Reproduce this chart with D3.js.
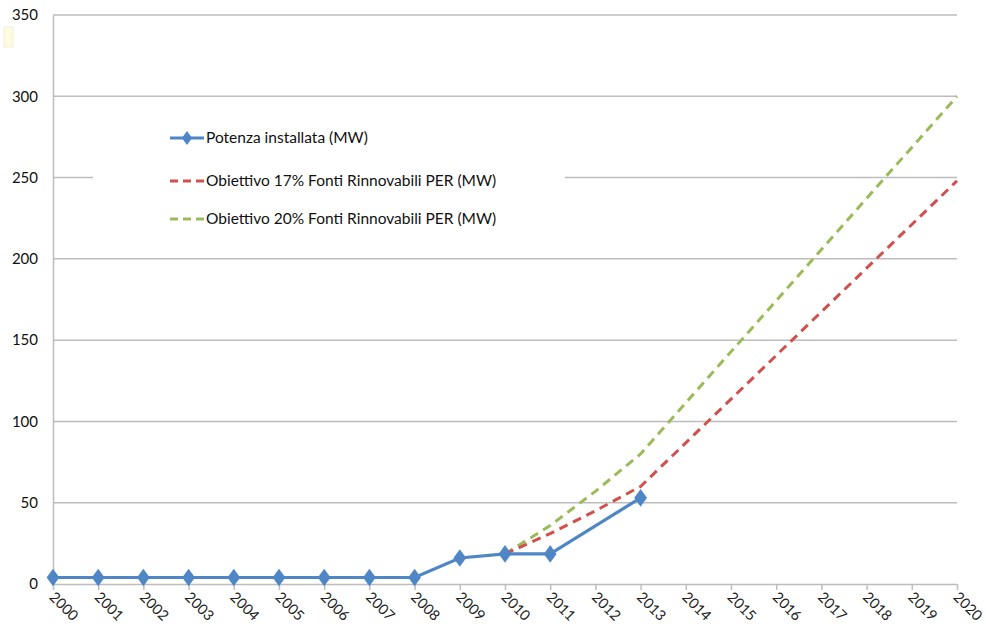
<!DOCTYPE html>
<html><head><meta charset="utf-8">
<script src="https://cdn.jsdelivr.net/npm/d3@7"></script>
<style>body{margin:0;background:#fff}svg{display:block}</style>
</head><body><svg id="c" width="986" height="634"></svg>
<script>
const years = d3.range(2000, 2021);
const yTicks = [0, 50, 100, 150, 200, 250, 300, 350];
const installedYears = [2000,2001,2002,2003,2004,2005,2006,2007,2008,2009,2010,2011,2013];
const installedValues = [4,4,4,4,4,4,4,4,4,16,18.5,18.5,53];
const target17Years = [2010,2011,2012,2013,2020];
const target17Values = [18.5,31,45,60,248];
const target20Years = [2010,2011,2012,2013,2020];
const target20Values = [18.5,36,57,80,300];
const seriesNames = ["Potenza installata (MW)","Obiettivo 17% Fonti Rinnovabili PER (MW)","Obiettivo 20% Fonti Rinnovabili PER (MW)"];
const colors = ["#4f86c6","#d0504d","#9bbb59"];

const svg = d3.select("#c");
const L=53, R=957, T=15, B=584;
const x = d3.scaleLinear().domain([2000,2020]).range([L,R]);
const y = d3.scaleLinear().domain([0,350]).range([B,T]);
const font = "Lato, 'Open Sans', sans-serif";

// gridlines
svg.append("g").selectAll("line").data(yTicks.filter(d=>d>0)).join("line")
  .attr("x1",L).attr("x2",R).attr("y1",d=>y(d)).attr("y2",d=>y(d))
  .attr("stroke","#bdbdbd").attr("stroke-width",1.5);

// y axis
const ya = svg.append("g").attr("transform",`translate(${L},0)`)
  .call(d3.axisLeft(y).tickValues(yTicks).tickSize(0).tickPadding(15));
ya.select(".domain").attr("stroke","#bdbdbd").attr("stroke-width",1.5);
ya.selectAll("text").attr("font-family",font).attr("font-size",15).attr("fill","#111");

// x axis
const xa = svg.append("g").attr("transform",`translate(0,${B})`)
  .call(d3.axisBottom(x).tickValues(years).tickFormat(d3.format("d")).tickSize(6).tickSizeOuter(0));
xa.select(".domain").attr("stroke","#bdbdbd").attr("stroke-width",1.5);
xa.selectAll(".tick line").attr("stroke","#bdbdbd").attr("stroke-width",1.5);
xa.selectAll("text").attr("font-family",font).attr("font-size",14.5).attr("fill","#222")
  .attr("text-anchor","start").attr("dy","0").attr("y",0)
  .attr("transform","translate(-5,14) rotate(45)");

// legend background (covers gridline)
svg.append("rect").attr("x",93).attr("y",120).attr("width",472).attr("height",120).attr("fill","#fff");

const line = d3.line().x(d=>x(d[0])).y(d=>y(d[1]));
const s17 = target17Years.map((d,i)=>[d,target17Values[i]]);
const s20 = target20Years.map((d,i)=>[d,target20Values[i]]);
const sInst = installedYears.map((d,i)=>[d,installedValues[i]]);

svg.append("path").attr("d",line(s20)).attr("fill","none").attr("stroke",colors[2])
  .attr("stroke-width",3).attr("stroke-dasharray","9,6");
svg.append("path").attr("d",line(s17)).attr("fill","none").attr("stroke",colors[1])
  .attr("stroke-width",3).attr("stroke-dasharray","9,6");
svg.append("path").attr("d",line(sInst)).attr("fill","none").attr("stroke",colors[0])
  .attr("stroke-width",3.2);
const diamond = d3.symbol().type(d3.symbolDiamond).size(90);
svg.append("g").selectAll("path").data(sInst).join("path")
  .attr("d",diamond).attr("transform",d=>`translate(${x(d[0])},${y(d[1])}) scale(1.25,1)`)
  .attr("fill",colors[0]);

// legend
const lg = svg.append("g");
const ly = [138,181,219];
seriesNames.forEach((n,i)=>{
  const g = lg.append("g");
  g.append("line").attr("x1",170).attr("x2",204).attr("y1",ly[i]).attr("y2",ly[i])
    .attr("stroke",colors[i]).attr("stroke-width",3)
    .attr("stroke-dasharray", i===0?null:"8,5");
  if(i===0) g.append("path").attr("d",diamond).attr("transform",`translate(187,${ly[i]}) scale(1.0,0.8)`).attr("fill",colors[0]);
  g.append("text").attr("x",206).attr("y",ly[i]).attr("dy","0.35em")
    .attr("font-family",font).attr("font-size",15.5).attr("fill","#111").text(n);
});

// note marker at top-left
svg.append("rect").attr("x",4).attr("y",27).attr("width",9).attr("height",20)
  .attr("fill","#fdfbe0").attr("stroke","#e6e3c0").attr("stroke-width",0.5);
</script></body></html>
